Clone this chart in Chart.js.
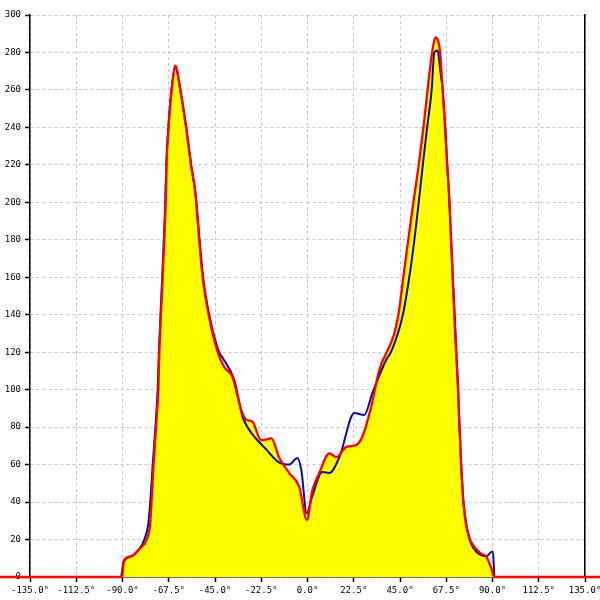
<!DOCTYPE html>
<html>
<head>
<meta charset="utf-8">
<script src="https://cdn.jsdelivr.net/npm/chart.js@4"></script>
<style>
    html, body { margin: 0; padding: 0; background: #fff; }
    #wrap { width: 600px; height: 600px; }
</style>
</head>
<body>
<div id="wrap"><canvas id="angleChart"></canvas></div>
<script>
// angle axis range and steps
const xMin = -135, xMax = 135, xStep = 22.5;
const yMin = 0, yMax = 300, yStep = 20;

// red series (degrees -> value)
const redAngles = [-180, -90.2, -89.3, -85.8, -81.8, -78.3, -76.6, -75.9, -74.9, -73.7, -72.6, -72.1, -71.3, -70.5, -69.7, -69.0, -68.6, -67.6, -66.1, -64.3, -61.9, -59.1, -56.7, -54.6, -52.7, -51.0, -48.1, -43.7, -40.5, -36.6, -32.2, -29.8, -26.9, -22.5, -17.6, -13.7, -8.9, -4.0, -0.3, 2.3, 5.7, 10.6, 14.0, 18.9, 23.7, 26.7, 31.0, 34.9, 40.6, 42.2, 44.2, 46.6, 49.0, 51.5, 54.1, 56.4, 58.4, 60.6, 62.2, 64.5, 65.7, 66.9, 67.9, 69.0, 69.8, 70.6, 71.4, 72.3, 73.0, 73.9, 74.7, 75.8, 77.1, 79.1, 81.2, 84.4, 86.9, 89.3, 90.9, 180];
const redValues = [0, 0, 9, 11, 15, 20, 28, 40, 60, 80, 100, 120, 140, 160, 180, 200, 220, 240, 260, 273, 260, 240, 220, 205, 180, 160, 140, 120, 112, 107, 89, 84, 83, 73, 74, 63.5, 55.5, 48, 30.4, 46, 55.5, 66, 64, 69.5, 70.5, 75, 91, 110.5, 125, 130, 140, 160, 180, 200, 220, 240, 260, 280, 288, 280, 260, 240, 220, 201, 180, 160, 140, 120, 105, 80, 60, 40, 28, 20, 16, 12.5, 11, 5, 0, 0];

// blue series
const blueAngles = [-90.6, -89.5, -85.8, -81.8, -79.4, -77.5, -76.5, -75.3, -74.0, -72.9, -72.3, -71.5, -70.7, -69.9, -69.2, -68.7, -67.7, -66.2, -64.3, -61.8, -59.0, -56.6, -54.5, -52.5, -50.8, -47.8, -43.0, -41.3, -35.6, -31.6, -28.3, -20.0, -13.7, -8.9, -5.0, -3.0, -0.4, 2.3, 7.2, 10.6, 15.5, 22.8, 27.6, 31.5, 38.3, 40.6, 46.4, 49.5, 52.0, 54.1, 56.1, 58.2, 60.4, 61.7, 63.3, 64.6, 65.8, 67.0, 68.0, 69.0, 69.9, 70.7, 71.6, 72.4, 73.1, 74.0, 74.8, 75.9, 77.3, 79.5, 82.6, 84.4, 87.0, 89.6, 90.2, 90.9];
const blueValues = [0, 8, 11, 15, 20, 28, 40, 60, 80, 100, 120, 140, 160, 180, 200, 220, 240, 260, 272, 260, 240, 220, 205, 180, 160, 140, 120, 117, 105, 85.6, 78.5, 68, 61, 60, 63.5, 57, 34, 43, 56, 55.5, 64, 87.5, 86.5, 98, 116, 120, 140, 160, 180, 200, 220, 240, 260, 280, 281, 270, 260, 240, 220, 201, 180, 160, 140, 120, 105, 80, 60, 40, 28, 18, 13, 11.7, 11, 13.5, 13.5, 0];

const toPoints = (xs, ys) => xs.map((x, i) => ({ x: x, y: ys[i] }));

Chart.defaults.font.family = "'DejaVu Sans Mono', monospace";
Chart.defaults.font.size = 9;
Chart.defaults.color = '#000';

const gridOpts = {
    color: '#c4c4c4',
    tickColor: '#000',
    tickLength: 5,
    tickWidth: 1.5,
    tickBorderDash: []
};
const borderOpts = { color: '#000', width: 1.5, dash: [3, 3] };

new Chart(document.getElementById('angleChart'), {
    type: 'line',
    data: {
        datasets: [{
            label: 'red',
            data: toPoints(redAngles, redValues),
            borderColor: '#ff0000',
            borderWidth: 2.3,
            backgroundColor: '#ffff00',
            fill: 'origin',
            pointRadius: 0,
            cubicInterpolationMode: 'monotone',
            clip: false
        }, {
            label: 'blue',
            data: toPoints(blueAngles, blueValues),
            borderColor: '#0a0aa0',
            borderWidth: 2,
            fill: false,
            pointRadius: 0,
            cubicInterpolationMode: 'monotone'
        }]
    },
    options: {
        responsive: true,
        maintainAspectRatio: false,
        animation: false,
        devicePixelRatio: 1,
        layout: { padding: { top: 15, right: 15, left: 0, bottom: 0 } },
        plugins: {
            legend: { display: false },
            tooltip: { enabled: false },
            filler: { drawTime: 'beforeDatasetsDraw' }
        },
        scales: {
            x: {
                type: 'linear',
                min: xMin,
                max: xMax,
                ticks: {
                    stepSize: xStep,
                    autoSkip: false,
                    maxRotation: 0,
                    padding: 3,
                    callback: (v) => v.toFixed(1) + '°'
                },
                grid: gridOpts,
                border: borderOpts,
                afterFit: (scale) => {
                    scale.height = 23;
                    scale.paddingLeft = 0;
                    scale.paddingRight = 0;
                }
            },
            y: {
                min: yMin,
                max: yMax,
                ticks: { stepSize: yStep, padding: 4 },
                grid: gridOpts,
                border: borderOpts,
                afterFit: (scale) => {
                    scale.width = 30;
                    scale.paddingTop = 0;
                    scale.paddingBottom = 0;
                }
            },
            y2: {
                position: 'right',
                min: yMin,
                max: yMax,
                ticks: { display: false },
                grid: { display: false, drawTicks: false },
                border: { color: '#000', width: 1.5 },
                afterFit: (scale) => { scale.width = 0; }
            }
        }
    }
});
</script>
</body>
</html>
